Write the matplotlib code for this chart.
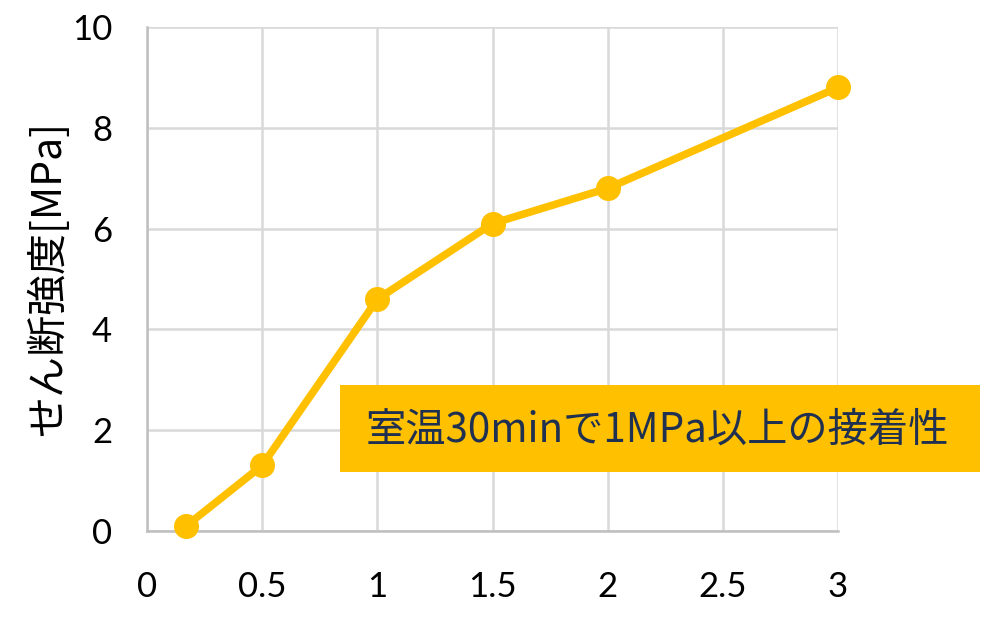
import matplotlib
matplotlib.use("Agg")
import matplotlib.pyplot as plt

plt.rcParams['font.family'] = ['Lato', 'Noto Sans CJK JP', 'DejaVu Sans']

x_hours = [0.17, 0.5, 1.0, 1.5, 2.0, 3.0]
shear_mpa = [0.1, 1.3, 4.6, 6.1, 6.8, 8.8]
x_ticks = [0, 0.5, 1, 1.5, 2, 2.5, 3]
x_tick_labels = ['0', '0.5', '1', '1.5', '2', '2.5', '3']
y_ticks = [0, 2, 4, 6, 8, 10]
y_label = 'せん断強度[MPa]'
x_label = '時間[hour]'
note = '室温30minで1MPa以上の接着性'

W, H = 983, 634
fig = plt.figure(figsize=(W/100, H/100), dpi=100)
ax = fig.add_axes([147/W, (H-531)/H, (838-147)/W, (531-27)/H])

color = '#FFC000'
ax.plot(x_hours, shear_mpa, color=color, lw=5.5, marker='o', ms=17,
        solid_capstyle='round', zorder=3, clip_on=False)

ax.set_xlim(0, 3)
ax.set_ylim(0, 10)
ax.set_xticks(x_ticks)
ax.set_xticklabels(x_tick_labels)
ax.set_yticks(y_ticks)
ax.grid(True, color='#D9D9D9', lw=1.8, zorder=0)
ax.set_axisbelow(True)
for s in ['top', 'right']:
    ax.spines[s].set_visible(False)
for s in ['left', 'bottom']:
    ax.spines[s].set_color('#BFBFBF')
    ax.spines[s].set_linewidth(1.8)
ax.tick_params(length=0, labelsize=25, colors='black')
ax.tick_params(axis='y', pad=25)
ax.tick_params(axis='x', pad=29)

ax.set_ylabel(y_label, fontsize=29.5, family=['Noto Sans CJK JP', 'DejaVu Sans'], labelpad=2)
fig.text(505/W, 1 - 658/H, x_label, fontsize=28, ha='center', va='center',
         family=['Noto Sans CJK JP', 'DejaVu Sans'])

# annotation box
box = matplotlib.patches.Rectangle((340/W, 1 - 472/H), (980-340)/W, (472-385)/H,
                                   transform=fig.transFigure, facecolor=color,
                                   edgecolor='none', zorder=5)
fig.add_artist(box)
fig.text(657/W, 1 - 430/H, note, fontsize=29, ha='center', va='center',
         color='#1F3050', family=['Noto Sans CJK JP', 'DejaVu Sans'], zorder=6)

fig.savefig('out.png', dpi=100)
